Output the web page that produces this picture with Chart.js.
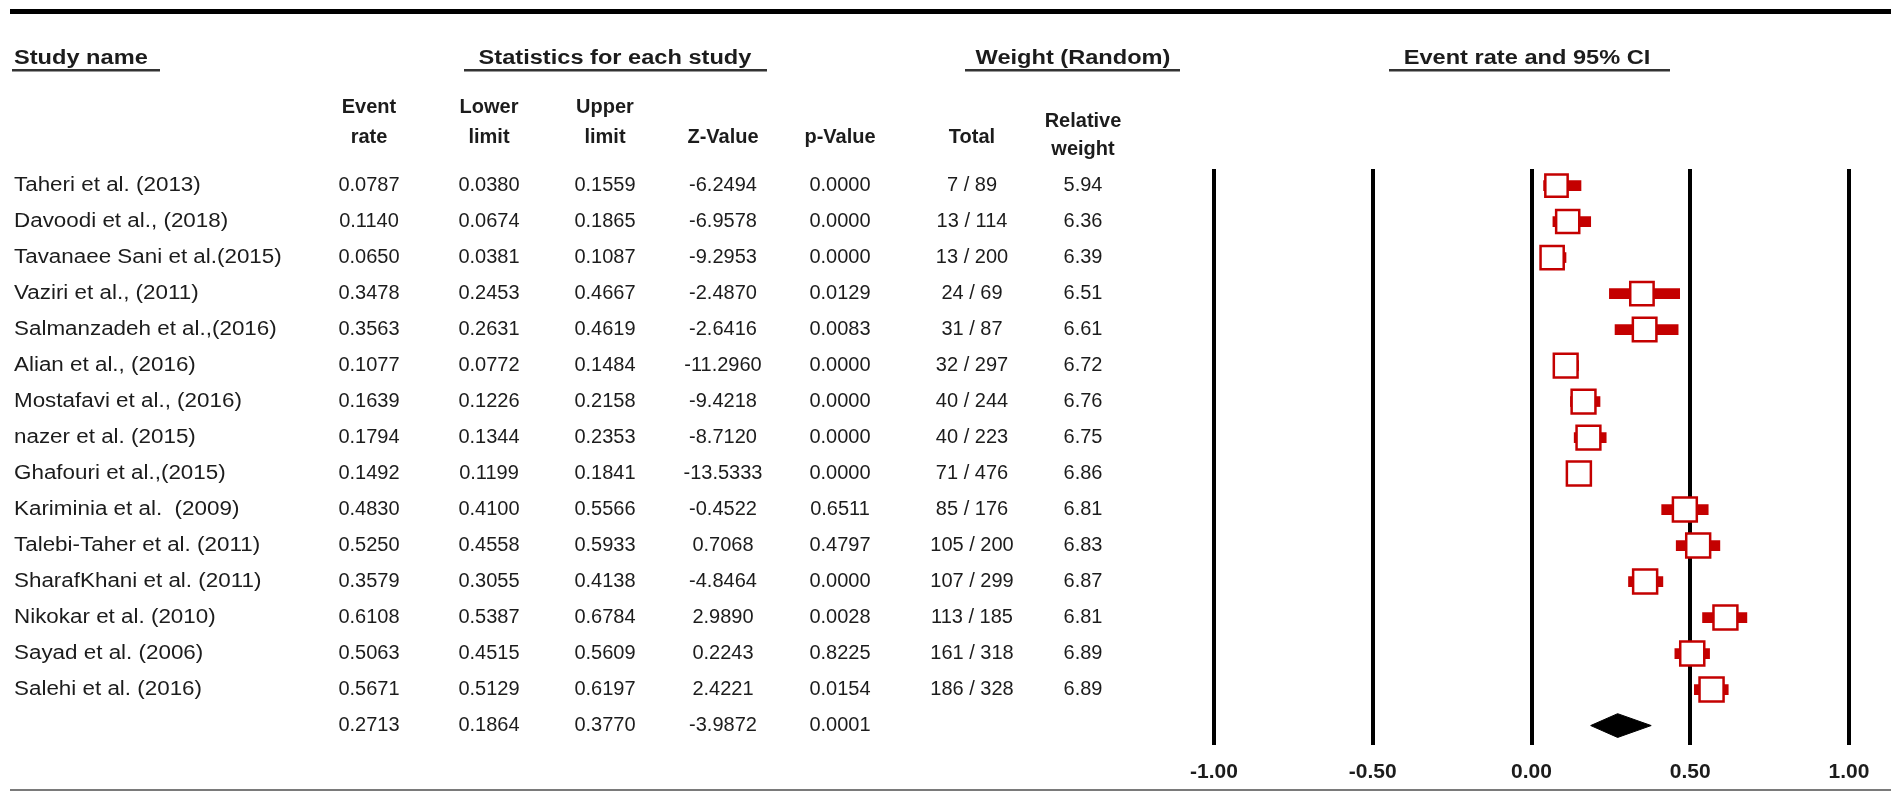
<!DOCTYPE html>
<html>
<head>
<meta charset="utf-8">
<title>Forest plot – event rate and 95% CI</title>
<script src="https://cdn.jsdelivr.net/npm/chart.js@4.4.1/dist/chart.umd.min.js"></script>
<style>
  html, body { margin: 0; padding: 0; background: #fff; }
  canvas { display: block; }
</style>
</head>
<body>
<canvas id="forest" width="1891" height="793"></canvas>
<script>
// ---- Study data ----
const studyNames = [
  'Taheri et al. (2013)',
  'Davoodi et al., (2018)',
  'Tavanaee Sani et al.(2015)',
  'Vaziri et al., (2011)',
  'Salmanzadeh et al.,(2016)',
  'Alian et al., (2016)',
  'Mostafavi et al., (2016)',
  'nazer et al. (2015)',
  'Ghafouri et al.,(2015)',
  'Kariminia et al.  (2009)',
  'Talebi-Taher et al. (2011)',
  'SharafKhani et al. (2011)',
  'Nikokar et al. (2010)',
  'Sayad et al. (2006)',
  'Salehi et al. (2016)'
];
const eventRate = [0.0787, 0.1140, 0.0650, 0.3478, 0.3563, 0.1077, 0.1639, 0.1794, 0.1492, 0.4830, 0.5250, 0.3579, 0.6108, 0.5063, 0.5671];
const lowerLimit = [0.0380, 0.0674, 0.0381, 0.2453, 0.2631, 0.0772, 0.1226, 0.1344, 0.1199, 0.4100, 0.4558, 0.3055, 0.5387, 0.4515, 0.5129];
const upperLimit = [0.1559, 0.1865, 0.1087, 0.4667, 0.4619, 0.1484, 0.2158, 0.2353, 0.1841, 0.5566, 0.5933, 0.4138, 0.6784, 0.5609, 0.6197];
const zValue = [-6.2494, -6.9578, -9.2953, -2.4870, -2.6416, -11.2960, -9.4218, -8.7120, -13.5333, -0.4522, 0.7068, -4.8464, 2.9890, 0.2243, 2.4221];
const pValue = [0.0000, 0.0000, 0.0000, 0.0129, 0.0083, 0.0000, 0.0000, 0.0000, 0.0000, 0.6511, 0.4797, 0.0000, 0.0028, 0.8225, 0.0154];
const events = [7, 13, 13, 24, 31, 32, 40, 40, 71, 85, 105, 107, 113, 161, 186];
const totals = [89, 114, 200, 69, 87, 297, 244, 223, 476, 176, 200, 299, 185, 318, 328];
const relativeWeight = [5.94, 6.36, 6.39, 6.51, 6.61, 6.72, 6.76, 6.75, 6.86, 6.81, 6.83, 6.87, 6.81, 6.89, 6.89];

// Pooled (random effects) estimate
const pooledRate = 0.2713;
const pooledLower = 0.1864;
const pooledUpper = 0.3770;
const pooledZ = -3.9872;
const pooledP = 0.0001;

// Axis ticks
const axisMin = -1;
const axisMax = 1;
const axisStep = 0.5;

// ---- Layout / style ----
const RED = '#c40000';
const INK = '#1c1c1c';
const FONT = '"Liberation Sans", Arial, Helvetica, sans-serif';
const pooledRow = studyNames.length;
const maxWeight = Math.max(...relativeWeight);

// column centres of the statistics table
const COL = { rate: 369, lower: 489, upper: 605, z: 723, p: 840, total: 972, weight: 1083 };

const ciData = studyNames.map((_, i) => ({ x: [lowerLimit[i], upperLimit[i]], y: i }));
const pointData = studyNames.map((_, i) => ({ x: eventRate[i], y: i }));
const DIAMOND_HALF = 0.33; // half height of the summary diamond, in rows
const diamondData = [
  { x: pooledLower, y: pooledRow },
  { x: pooledRate, y: pooledRow - DIAMOND_HALF },
  { x: pooledUpper, y: pooledRow },
  { x: pooledRate, y: pooledRow + DIAMOND_HALF },
  { x: pooledLower, y: pooledRow }
];

// text drawn with a horizontal stretch factor
function stretchedText(ctx, text, x, y, align, sx) {
  ctx.save();
  ctx.translate(x, y);
  ctx.scale(sx, 1);
  ctx.textAlign = align;
  ctx.fillText(text, 0, 0);
  ctx.restore();
}

// Draws the statistics table, header titles and horizontal rules
const tablePlugin = {
  id: 'studyTable',
  afterDraw(chart) {
    const ctx = chart.ctx;
    const ys = chart.scales.y;
    ctx.save();

    // horizontal rules
    ctx.fillStyle = '#000';
    ctx.fillRect(10, 9, 1881, 5);
    ctx.fillStyle = '#7a7a7a';
    ctx.fillRect(10, 789, 1881, 2);

    // group headings with underline
    ctx.fillStyle = INK;
    ctx.textBaseline = 'middle';
    ctx.font = 'bold 20px ' + FONT;
    const heads = [
      { t: 'Study name', x: 14, align: 'left', u: [12, 160] },
      { t: 'Statistics for each study', x: 615, align: 'center', u: [464, 767] },
      { t: 'Weight (Random)', x: 1073, align: 'center', u: [965, 1180] },
      { t: 'Event rate and 95% CI', x: 1527, align: 'center', u: [1389, 1670] }
    ];
    heads.forEach(h => {
      stretchedText(ctx, h.t, h.x, 58, h.align, 1.18);
      ctx.fillStyle = '#333';
      ctx.fillRect(h.u[0], 69, h.u[1] - h.u[0], 2.5);
      ctx.fillStyle = INK;
    });

    // column headings
    ctx.textAlign = 'center';
    const colHeads = [
      [COL.rate, 'Event', 107], [COL.rate, 'rate', 137],
      [COL.lower, 'Lower', 107], [COL.lower, 'limit', 137],
      [COL.upper, 'Upper', 107], [COL.upper, 'limit', 137],
      [COL.z, 'Z-Value', 137],
      [COL.p, 'p-Value', 137],
      [COL.total, 'Total', 137],
      [COL.weight, 'Relative', 121], [COL.weight, 'weight', 149]
    ];
    colHeads.forEach(([x, t, y]) => ctx.fillText(t, x, y));

    // study rows
    ctx.font = '20px ' + FONT;
    studyNames.forEach((name, i) => {
      const y = ys.getPixelForValue(i);
      stretchedText(ctx, name, 14, y, 'left', 1.12);
      ctx.textAlign = 'center';
      ctx.fillText(eventRate[i].toFixed(4), COL.rate, y);
      ctx.fillText(lowerLimit[i].toFixed(4), COL.lower, y);
      ctx.fillText(upperLimit[i].toFixed(4), COL.upper, y);
      ctx.fillText(zValue[i].toFixed(4), COL.z, y);
      ctx.fillText(pValue[i].toFixed(4), COL.p, y);
      ctx.fillText(events[i] + ' / ' + totals[i], COL.total, y);
      ctx.fillText(relativeWeight[i].toFixed(2), COL.weight, y);
    });

    // pooled row
    const yp = ys.getPixelForValue(pooledRow);
    ctx.textAlign = 'center';
    ctx.fillText(pooledRate.toFixed(4), COL.rate, yp);
    ctx.fillText(pooledLower.toFixed(4), COL.lower, yp);
    ctx.fillText(pooledUpper.toFixed(4), COL.upper, yp);
    ctx.fillText(pooledZ.toFixed(4), COL.z, yp);
    ctx.fillText(pooledP.toFixed(4), COL.p, yp);

    ctx.restore();
  }
};

new Chart(document.getElementById('forest'), {
  type: 'bar',
  data: {
    datasets: [
      {
        type: 'bar',
        label: '95% CI',
        indexAxis: 'y',
        data: ciData,
        backgroundColor: RED,
        borderWidth: 0,
        barThickness: 10,
        order: 2
      },
      {
        type: 'line',
        label: 'Pooled',
        data: diamondData,
        borderColor: '#000',
        backgroundColor: '#000',
        borderWidth: 1,
        pointRadius: 0,
        tension: 0,
        fill: 'shape',
        order: 1
      },
      {
        type: 'scatter',
        label: 'Event rate',
        data: pointData,
        pointStyle: 'rect',
        pointRadius: ctx => 17 * Math.sqrt(relativeWeight[ctx.dataIndex] / maxWeight),
        pointBackgroundColor: '#fff',
        pointBorderColor: RED,
        pointBorderWidth: 2.5,
        order: 0
      }
    ]
  },
  options: {
    responsive: false,
    animation: false,
    events: [],
    layout: { padding: { left: 1214, right: 42, top: 169, bottom: 0 } },
    plugins: { legend: { display: false }, tooltip: { enabled: false } },
    scales: {
      x: {
        type: 'linear',
        position: 'bottom',
        offset: false,
        min: axisMin,
        max: axisMax,
        afterFit: scale => { scale.height = 48; },
        border: { display: false },
        grid: { color: '#000', lineWidth: 4, drawTicks: false, offset: false },
        ticks: {
          stepSize: axisStep,
          padding: 15,
          color: INK,
          font: { family: FONT, size: 21, weight: 'bold' },
          callback: v => Number(v).toFixed(2)
        }
      },
      y: {
        type: 'linear',
        display: false,
        offset: false,
        reverse: true,
        min: -0.46,
        max: pooledRow + 0.54
      }
    }
  },
  plugins: [tablePlugin]
});
</script>
</body>
</html>
